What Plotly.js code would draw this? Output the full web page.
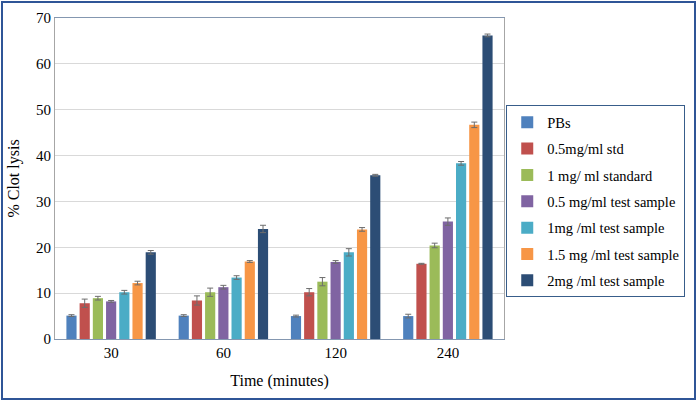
<!DOCTYPE html>
<html>
<head>
<meta charset="utf-8">
<script src="https://cdn.plot.ly/plotly-3.0.1.min.js"></script>
<style>
html,body{margin:0;padding:0;background:#fff;}
#wrap{position:relative;width:697px;height:401px;}
#chart{width:697px;height:401px;}
#frame{position:absolute;left:1px;top:1px;width:691px;height:395px;border:2px solid #2F5597;pointer-events:none;}
</style>
</head>
<body>
<div id="wrap"><div id="chart"></div><div id="frame"></div></div>
<script>
const categories = ["30", "60", "120", "240"];
const seriesNames = ["PBs", "0.5mg/ml std", "1 mg/ ml standard", "0.5 mg/ml test sample", "1mg /ml test sample", "1.5 mg /ml test sample", "2mg /ml test sample"];
const pbs      = [5.1, 5.1, 5.0, 5.0];
const std05    = [7.8, 8.4, 10.2, 16.4];
const std1     = [8.9, 10.2, 12.5, 20.4];
const test05   = [8.2, 11.3, 16.8, 25.6];
const test1    = [10.2, 13.4, 18.9, 38.3];
const test15   = [12.2, 16.9, 23.9, 46.7];
const test2    = [18.9, 24.0, 35.7, 66.2];
const errPbs    = [0.2, 0.2, 0.2, 0.4];
const errStd05  = [0.9, 1.0, 0.8, 0.1];
const errStd1   = [0.4, 0.9, 0.9, 0.5];
const errTest05 = [0.2, 0.4, 0.3, 0.8];
const errTest1  = [0.4, 0.4, 0.8, 0.4];
const errTest15 = [0.4, 0.2, 0.4, 0.6];
const errTest2  = [0.4, 0.8, 0.2, 0.3];
const colors = ["#4F81BD", "#C0504D", "#9BBB59", "#8064A2", "#4BACC6", "#F79646", "#2C4D75"];

const values = [pbs, std05, std1, test05, test1, test15, test2];
const errs = [errPbs, errStd05, errStd1, errTest05, errTest1, errTest15, errTest2];

const FONT = "Liberation Serif";

const traces = seriesNames.map((n, i) => ({
  type: "bar",
  name: n,
  x: categories,
  y: values[i],
  legendgroup: "g" + i,
  marker: {color: colors[i], line: {color: colors[i], width: 0}},
  error_y: {type: "data", array: errs[i], visible: true, color: "#6d6d6d", thickness: 1, width: 3}
}));

const layout = {
  width: 697, height: 401,
  margin: {l: 55, r: 189, t: 18, b: 62},
  paper_bgcolor: "#ffffff", plot_bgcolor: "#ffffff",
  barmode: "group", bargap: 0.176, bargroupgap: 0.23,
  font: {family: FONT, size: 15, color: "#000"},
  xaxis: {
    type: "category",
    title: {text: "Time (minutes)", font: {family: FONT, size: 16}, standoff: 14},
    showline: true, linecolor: "#8497B0", linewidth: 1, mirror: true,
    ticks: "", tickfont: {family: FONT, size: 15}, showgrid: false
  },
  yaxis: {
    range: [0, 70], dtick: 10,
    title: {text: "% Clot lysis", font: {family: FONT, size: 16}, standoff: 12},
    showline: true, linecolor: "#A6A6A6", linewidth: 1, mirror: true,
    gridcolor: "#D9D9D9", gridwidth: 1, ticks: "", tickfont: {family: FONT, size: 15}, zeroline: false
  },
  showlegend: true,
  legend: {
    x: 1.005, y: 0.728, xanchor: "left", yanchor: "top",
    bordercolor: "#385D8A", borderwidth: 1, bgcolor: "#fff",
    font: {family: FONT, size: 14.5}, traceorder: "grouped", tracegroupgap: 4.5,
    itemwidth: 30
  }
};

Plotly.newPlot("chart", traces, layout, {staticPlot: true, displayModeBar: false});
</script>
</body>
</html>
